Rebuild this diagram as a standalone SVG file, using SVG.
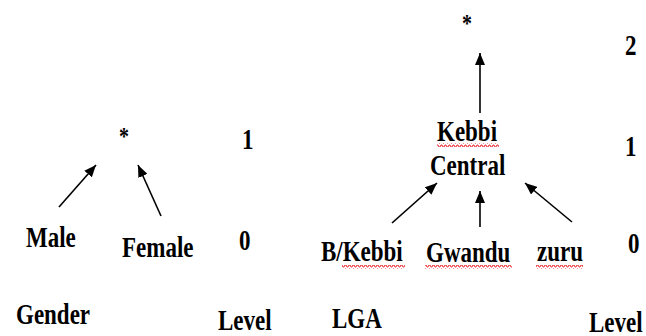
<svg xmlns="http://www.w3.org/2000/svg" width="646" height="336" viewBox="0 0 646 336">
  <style>
    .lbl { font-weight: bold; font-size: 23px; fill: #000; }
    .star { font-size: 20px; }
    .edge { stroke: #000; stroke-width: 1.6; fill: none; marker-end: url(#head); }
  </style>
  <defs>
    <marker id="head" markerUnits="userSpaceOnUse" markerWidth="13" markerHeight="10" refX="12" refY="5" orient="auto">
      <path d="M0,0 L12,5 L0,10 z" fill="#000"/>
    </marker>
    <!-- red spell-check squiggle -->
    <pattern id="wave" patternUnits="userSpaceOnUse" width="4" height="4">
      <path d="M0,3 L1,1 L2,1 L3,3 L4,3" stroke="#e8262a" stroke-width="1" fill="none"/>
    </pattern>
  </defs>

  <g font-family="'Liberation Serif', 'DejaVu Serif', serif">
  <!-- Gender hierarchy -->
  <g id="gender-root"><text class="lbl star" transform="matrix(1 0 0 1.25 119 145)">*</text></g>
  <g id="male"><text class="lbl" transform="matrix(1 0 0 1.25 26 247)">Male</text></g>
  <g id="female"><text class="lbl" transform="matrix(1 0 0 1.25 122 257)">Female</text></g>
  <g id="gender-level-1"><text class="lbl" transform="matrix(1 0 0 1.25 242 149)">1</text></g>
  <g id="gender-level-0"><text class="lbl" transform="matrix(1 0 0 1.25 239 250)">0</text></g>
  <g id="gender-label"><text class="lbl" transform="matrix(1 0 0 1.25 16 324)">Gender</text></g>
  <g id="gender-level-label"><text class="lbl" transform="matrix(1 0 0 1.25 218 330)">Level</text></g>

  <!-- LGA hierarchy -->
  <g id="lga-root"><text class="lbl star" transform="matrix(1 0 0 1.25 462 32)">*</text></g>
  <g id="kebbi-central">
    <text class="lbl" transform="matrix(1 0 0 1.25 437 141)">Kebbi</text>
    <text class="lbl" transform="matrix(1 0 0 1.25 430 175)">Central</text>
    <rect x="437" y="143" width="62" height="4" fill="url(#wave)"/>
  </g>
  <g id="b-kebbi">
    <text class="lbl" transform="matrix(1 0 0 1.25 321 261)">B/Kebbi</text>
    <rect x="342" y="265" width="63" height="4" fill="url(#wave)"/>
  </g>
  <g id="gwandu">
    <text class="lbl" transform="matrix(1 0 0 1.25 426 262)">Gwandu</text>
    <rect x="425" y="265" width="87" height="4" fill="url(#wave)"/>
  </g>
  <g id="zuru">
    <text class="lbl" transform="matrix(1 0 0 1.25 537 261)">zuru</text>
    <rect x="536" y="265" width="47" height="4" fill="url(#wave)"/>
  </g>
  <g id="lga-level-2"><text class="lbl" transform="matrix(1 0 0 1.25 625 55)">2</text></g>
  <g id="lga-level-1"><text class="lbl" transform="matrix(1 0 0 1.25 625 156)">1</text></g>
  <g id="lga-level-0"><text class="lbl" transform="matrix(1 0 0 1.25 628 253)">0</text></g>
  <g id="lga-label"><text class="lbl" transform="matrix(1 0 0 1.25 332 328)">LGA</text></g>
  <g id="lga-level-label"><text class="lbl" transform="matrix(1 0 0 1.25 589 332)">Level</text></g>
  </g>

  <!-- connectors -->
  <g id="connectors">
    <line class="edge" x1="59" y1="207" x2="96" y2="165"/>
    <line class="edge" x1="161" y1="216" x2="138" y2="165"/>
    <line class="edge" x1="480" y1="113" x2="480" y2="53"/>
    <line class="edge" x1="392" y1="223" x2="437" y2="183"/>
    <line class="edge" x1="480" y1="227" x2="480" y2="191"/>
    <line class="edge" x1="572" y1="222" x2="525" y2="183"/>
  </g>
</svg>
